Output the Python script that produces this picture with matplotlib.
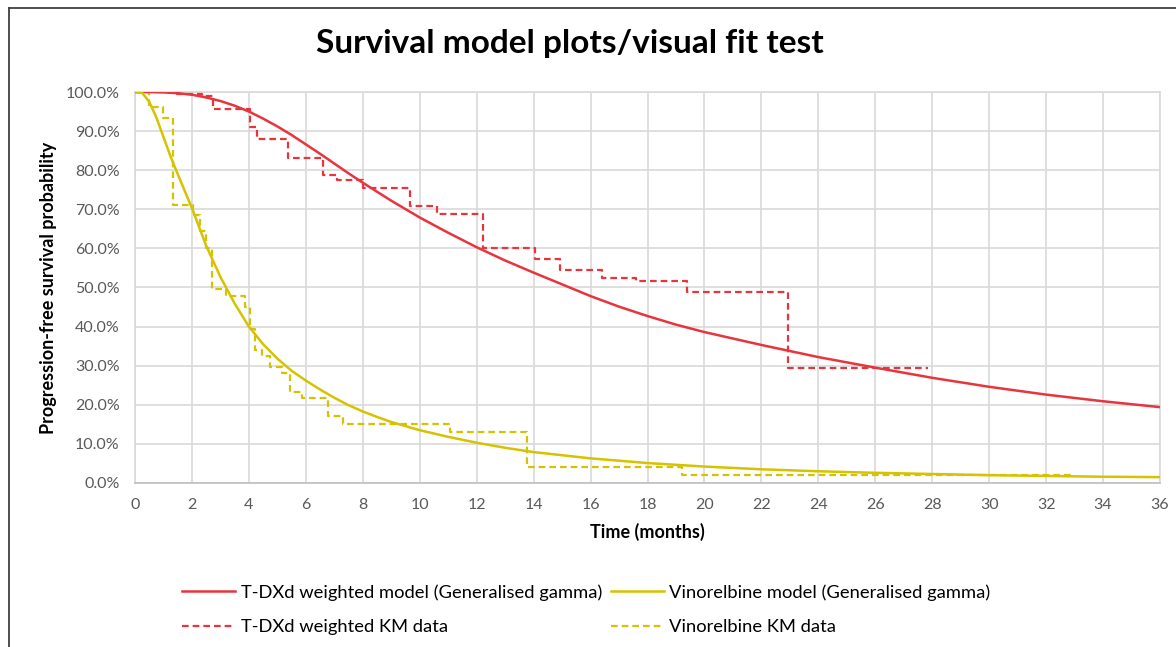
import numpy as np
import matplotlib
matplotlib.use("Agg")
import matplotlib.pyplot as plt
from matplotlib.lines import Line2D
from matplotlib.ticker import FuncFormatter, MultipleLocator

plt.rcParams['font.family'] = ['Lato', 'DejaVu Sans']

# fitted generalised gamma curves (months, survival)
tdxd_t = [0, 0.5, 1, 1.5, 2, 2.5, 3, 3.5, 4, 4.5, 5, 5.5, 6, 6.5, 7, 7.5, 8,
          9, 10, 11, 12, 13, 14, 15, 16, 17, 18, 19, 20, 22, 24, 26, 28, 30,
          32, 34, 36]
tdxd_model = [1.000, 1.000, 0.999, 0.997, 0.993, 0.986, 0.977, 0.965, 0.950,
              0.932, 0.912, 0.890, 0.866, 0.842, 0.817, 0.792, 0.768, 0.722,
              0.679, 0.640, 0.603, 0.569, 0.538, 0.508, 0.478, 0.451, 0.427,
              0.405, 0.386, 0.353, 0.322, 0.295, 0.269, 0.246, 0.226, 0.209,
              0.194]
vino_t = [0, 0.25, 0.5, 0.75, 1, 1.25, 1.5, 2, 2.5, 3, 3.5, 4, 4.5, 5, 5.5, 6,
          6.5, 7, 7.5, 8, 8.5, 9, 10, 11, 12, 13, 14, 16, 18, 20, 22, 24, 26,
          28, 30, 32, 34, 36]
vino_model = [1.000, 0.998, 0.975, 0.935, 0.885, 0.835, 0.790, 0.703, 0.607,
              0.527, 0.459, 0.400, 0.355, 0.318, 0.287, 0.262, 0.239, 0.218,
              0.199, 0.183, 0.169, 0.156, 0.135, 0.118, 0.103, 0.090, 0.079,
              0.063, 0.051, 0.042, 0.035, 0.030, 0.026, 0.023, 0.020, 0.018,
              0.016, 0.015]

# Kaplan-Meier step data
tdxd_km_t = [0, 1.47, 2.35, 2.74, 4.04, 4.3, 5.37, 6.6, 7.1, 8.0, 9.66, 10.6,
             12.22, 14.05, 14.93, 16.4, 17.6, 19.4, 22.94, 27.85]
tdxd_km_s = [1.000, 0.995, 0.990, 0.956, 0.910, 0.880, 0.831, 0.788, 0.775,
             0.754, 0.708, 0.688, 0.601, 0.573, 0.545, 0.524, 0.517, 0.489,
             0.294, 0.294]
vino_km_t = [0, 0.5, 1.0, 1.34, 2.05, 2.3, 2.5, 2.72, 3.2, 3.86, 4.05, 4.2,
             4.45, 4.74, 5.17, 5.44, 5.86, 6.78, 7.3, 11.06, 13.77, 19.2, 32.9]
vino_km_s = [1.000, 0.962, 0.934, 0.710, 0.685, 0.645, 0.600, 0.497, 0.478,
             0.450, 0.395, 0.340, 0.325, 0.297, 0.281, 0.233, 0.217, 0.171,
             0.152, 0.131, 0.040, 0.020, 0.020]

labels = ['T-DXd weighted model (Generalised gamma)',
          'T-DXd weighted KM data',
          'Vinorelbine model (Generalised gamma)',
          'Vinorelbine KM data']

red = '#e8343c'
yellow = '#d6c300'
grid_c = '#d9d9d9'
dash = (0, (3, 1.8))

fig = plt.figure(figsize=(11.76, 6.47), dpi=100)
ax = fig.add_axes([0.1148, 0.2535, 0.8716, 0.6043])

ax.plot(tdxd_t, tdxd_model, color=red, lw=1.8, zorder=5)
ax.plot(vino_t, vino_model, color=yellow, lw=1.8, zorder=5)
ax.plot(tdxd_km_t, tdxd_km_s, color=red, lw=1.6, ls=dash,
        drawstyle='steps-post', zorder=4)
ax.plot(vino_km_t, vino_km_s, color=yellow, lw=1.6, ls=dash,
        drawstyle='steps-post', zorder=4)

ax.set_xlim(0, 36)
ax.set_ylim(0, 1)
ax.xaxis.set_major_locator(MultipleLocator(2))
ax.yaxis.set_major_locator(MultipleLocator(0.1))
ax.yaxis.set_major_formatter(FuncFormatter(lambda v, p: '%.1f%%' % (v * 100)))
ax.tick_params(length=0, labelsize=11.5, labelcolor='#595959', pad=11)
ax.grid(True, color=grid_c, lw=1.2)
ax.set_axisbelow(True)
for s in ax.spines.values():
    s.set_color(grid_c)
    s.set_linewidth(1.2)
ax.spines['bottom'].set_color('#bfbfbf')

ax.set_xlabel('Time (months)', fontsize=13, fontweight='bold', labelpad=8)
ax.set_ylabel('Progression-free survival probability', fontsize=13,
              fontweight='bold', labelpad=6)

fig.text(0.485, 0.932, 'Survival model plots/visual fit test', fontsize=24,
         fontweight='bold', ha='center', va='center')

# legend: solid models on the first row, KM data on the second
handles = [Line2D([], [], color=red, lw=1.8),
           Line2D([], [], color=red, lw=1.6, ls=dash),
           Line2D([], [], color=yellow, lw=1.8),
           Line2D([], [], color=yellow, lw=1.6, ls=dash)]
fig.legend(handles, labels, ncol=2, loc='upper left',
           bbox_to_anchor=(0.155, 0.097), bbox_transform=fig.transFigure,
           frameon=False, fontsize=13.2, handlelength=2.9, handletextpad=0.3,
           columnspacing=0.45, labelspacing=1.0, borderaxespad=0,
           borderpad=0)

# outer frame lines
fig.add_artist(Line2D([9 / 1176, 1], [1 - 8 / 647, 1 - 8 / 647],
                      transform=fig.transFigure, color='#404040', lw=1.3))
fig.add_artist(Line2D([9 / 1176, 9 / 1176], [0, 1 - 8 / 647],
                      transform=fig.transFigure, color='#404040', lw=1.3))

fig.savefig('out.png', dpi=100)
